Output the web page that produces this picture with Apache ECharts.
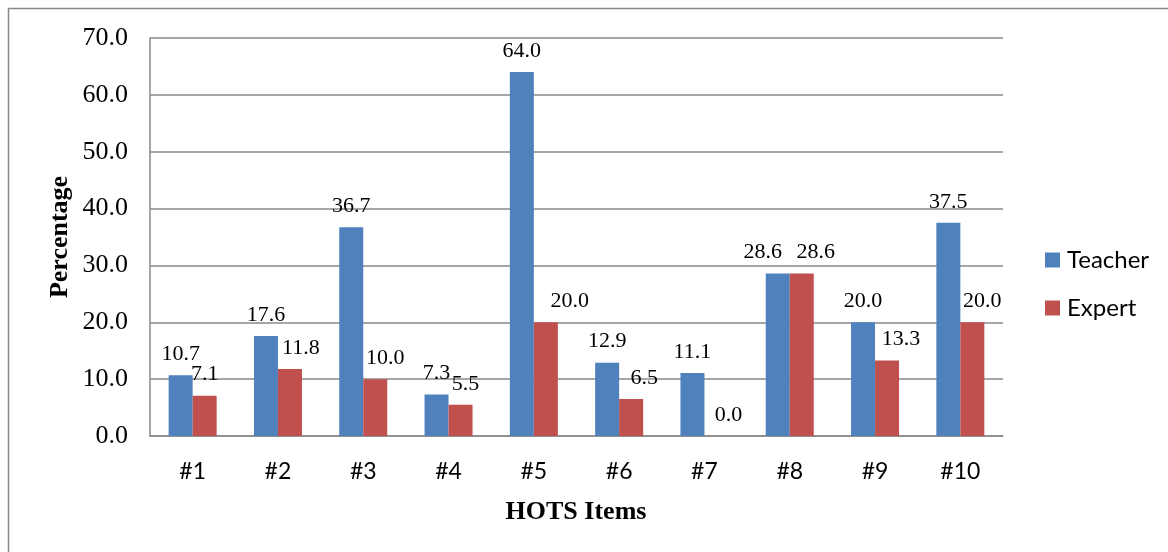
<!DOCTYPE html>
<html>
<head>
<meta charset="utf-8">
<script src="https://cdn.jsdelivr.net/npm/echarts@6/dist/echarts.min.js"></script>
<style>html,body{margin:0;padding:0;background:#fff}#c{width:1168px;height:552px}</style>
</head>
<body>
<div id="c"></div>
<script>
const categories = ['#1','#2','#3','#4','#5','#6','#7','#8','#9','#10'];
const teacher = [10.7, 17.6, 36.7, 7.3, 64.0, 12.9, 11.1, 28.6, 20.0, 37.5];
const expert = [7.1, 11.8, 10.0, 5.5, 20.0, 6.5, 0.0, 28.6, 13.3, 20.0];
const seriesNames = ['Teacher', 'Expert'];
const yTicks = {min: 0, max: 70, interval: 10};

const serif = '"Liberation Serif","Times New Roman",serif';
const sans = 'Lato,"Liberation Sans",sans-serif';
const gridColor = '#898989';

// horizontal nudges of the data labels, as placed in the original chart
const teacherLabelNudge = [0, 0, 0, 0, 0, 0, 0, -15, 0, 0];
const expertLabelNudge = [0, 11, 10, 5, 24, 13, 12, 14, 14, 10];

const labelCfg = {
  show: true, position: 'top', distance: 10,
  fontFamily: serif, fontSize: 22, color: '#000',
  formatter: p => Number(p.value).toFixed(1)
};
function withLabels(values, nudges) {
  return values.map((v, i) => ({
    value: v,
    label: {offset: [nudges[i], 0]}
  }));
}

const chart = echarts.init(document.getElementById('c'), null, {renderer: 'canvas'});
chart.setOption({
  animation: false,
  backgroundColor: '#fff',
  grid: {left: 150, right: 165, top: 38, bottom: 116, containLabel: false},
  legend: {
    orient: 'vertical', left: 1045, top: 248, padding: 0,
    itemWidth: 15, itemHeight: 15, itemGap: 24,
    icon: 'rect',
    textStyle: {fontFamily: sans, fontSize: 24, color: '#000', padding: [0,0,0,2]},
    data: seriesNames
  },
  xAxis: {
    type: 'category', data: categories,
    axisLine: {lineStyle: {color: gridColor, width: 1.5}},
    axisTick: {show: false},
    axisLabel: {fontFamily: sans, fontSize: 23, color: '#000', margin: 24}
  },
  yAxis: {
    type: 'value', min: yTicks.min, max: yTicks.max, interval: yTicks.interval,
    axisLine: {show: true, lineStyle: {color: gridColor, width: 1.5}},
    axisTick: {show: false},
    splitLine: {lineStyle: {color: gridColor, width: 1.5}},
    axisLabel: {fontFamily: serif, fontSize: 26, color: '#000', margin: 22,
      formatter: v => v.toFixed(1)}
  },
  series: [
    {name: seriesNames[0], type: 'bar', data: withLabels(teacher, teacherLabelNudge),
     barWidth: 24, barGap: '0%',
     itemStyle: {color: '#4F81BD'}, label: labelCfg},
    {name: seriesNames[1], type: 'bar', data: withLabels(expert, expertLabelNudge),
     barWidth: 24, barGap: '0%',
     itemStyle: {color: '#C0504D'}, label: labelCfg}
  ],
  graphic: [
    {type: 'rect', shape: {x: 8.5, y: 8.5, width: 1300, height: 700},
     style: {fill: 'none', stroke: '#888', lineWidth: 1.5}, silent: true},
    {type: 'text', x: 60, y: 237, rotation: Math.PI / 2,
     style: {text: 'Percentage', font: 'bold 26px ' + serif, fill: '#000',
       textAlign: 'center', textVerticalAlign: 'middle'}},
    {type: 'text', x: 576, y: 512,
     style: {text: 'HOTS Items', font: 'bold 26px ' + serif, fill: '#000',
       textAlign: 'center', textVerticalAlign: 'middle'}}
  ]
});
</script>
</body>
</html>
